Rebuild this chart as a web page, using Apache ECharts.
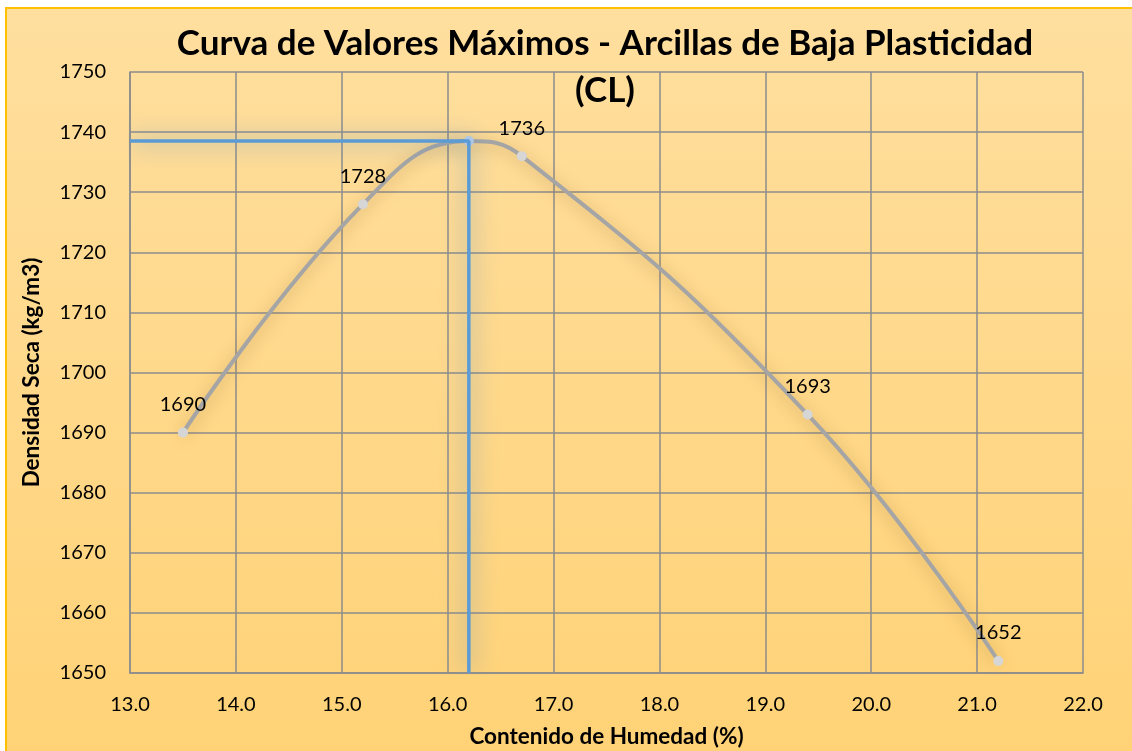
<!DOCTYPE html>
<html>
<head>
<meta charset="utf-8">
<script src="https://cdn.jsdelivr.net/npm/echarts@6/dist/echarts.min.js"></script>
<style>
  html, body { margin: 0; padding: 0; background: #ffffff; }
  #chart { width: 1132px; height: 751px; }
</style>
</head>
<body>
<div id="chart"></div>
<script>
// Compaction test results: moisture content (%) vs dry density (kg/m3)
const humedad = [13.5, 15.2, 16.7, 19.4, 21.2];
const densidad = [1690, 1728, 1736, 1693, 1652];

// Optimum point
const optimoHumedad = 16.2;
const optimoDensidad = 1738.5;

const xTicks = { min: 13, max: 22, step: 1 };
const yTicks = { min: 1650, max: 1750, step: 10 };

const titulo = 'Curva de Valores Máximos - Arcillas de Baja Plasticidad\n(CL)';
const tituloX = 'Contenido de Humedad (%)';
const tituloY = 'Densidad Seca (kg/m3)';

// Curve points: measured values plus the optimum, ordered by moisture
const puntosCurva = humedad.map((h, i) => ({ value: [h, densidad[i]], etiqueta: true }));
puntosCurva.push({ value: [optimoHumedad, optimoDensidad], etiqueta: false });
puntosCurva.sort((a, b) => a.value[0] - b.value[0]);

const curvaData = puntosCurva.map(p => ({
  value: p.value,
  label: { show: p.etiqueta },
  itemStyle: p.etiqueta ? { color: '#D6D6D6' } : { color: '#B9D0EA' }
}));

// Reference lines to the optimum (to the y axis and down to the x axis)
const lineasOptimo = [
  [xTicks.min, optimoDensidad],
  [optimoHumedad, optimoDensidad],
  [optimoHumedad, yTicks.min]
];

const chart = echarts.init(document.getElementById('chart'), null, { renderer: 'canvas' });

const fuente = 'Lato, "Open Sans", sans-serif';
const tickFont = { fontFamily: fuente, fontSize: 20, color: '#000000' };
const axisTitleFont = { fontFamily: fuente, fontWeight: 'bold', fontSize: 22.5, color: '#000000' };

chart.setOption({
  backgroundColor: '#ffffff',
  animation: false,
  graphic: [{
    type: 'rect',
    z: -10,
    silent: true,
    shape: { x: 6, y: 8, width: 1130, height: 750 },
    style: {
      fill: new echarts.graphic.LinearGradient(0, 0, 0, 1, [
        { offset: 0, color: '#FFDF9F' },
        { offset: 1, color: '#FFD276' }
      ]),
      stroke: '#FFC000',
      lineWidth: 2
    }
  }],
  title: {
    text: titulo,
    left: 600,
    textAlign: 'center',
    top: 15,
    textStyle: {
      fontFamily: fuente,
      fontWeight: 'bold',
      fontSize: 35,
      lineHeight: 47,
      color: '#000000'
    }
  },
  grid: { left: 130, right: 49, top: 72, bottom: 78, outerBoundsMode: 'none', containLabel: false },
  xAxis: {
    type: 'value',
    min: xTicks.min,
    max: xTicks.max,
    interval: xTicks.step,
    name: tituloX,
    nameLocation: 'middle',
    nameGap: 52,
    nameTextStyle: axisTitleFont,
    axisLine: { show: true, lineStyle: { color: '#8C8C8C', width: 1.5 } },
    axisTick: { show: false },
    axisLabel: Object.assign({ margin: 22, formatter: v => v.toFixed(1) }, tickFont),
    splitLine: { show: true, lineStyle: { color: '#8C8C8C', width: 1.5 } }
  },
  yAxis: {
    type: 'value',
    min: yTicks.min,
    max: yTicks.max,
    interval: yTicks.step,
    name: tituloY,
    nameLocation: 'middle',
    nameGap: 87,
    nameTextStyle: axisTitleFont,
    axisLine: { show: true, lineStyle: { color: '#8C8C8C', width: 1.5 } },
    axisTick: { show: false },
    axisLabel: Object.assign({ margin: 24, formatter: v => String(v) }, tickFont),
    splitLine: { show: true, lineStyle: { color: '#8C8C8C', width: 1.5 } }
  },
  series: [
    {
      type: 'line',
      data: curvaData,
      smooth: 0.45,
      symbol: 'circle',
      symbolSize: 10,
      z: 3,
      lineStyle: {
        color: '#A5A5A5',
        width: 4,
        shadowColor: 'rgba(110, 80, 30, 0.4)',
        shadowBlur: 16,
        shadowOffsetY: 3
      },
      label: {
        show: true,
        position: 'top',
        distance: 13,
        fontFamily: fuente,
        fontSize: 20,
        color: '#000000',
        formatter: p => String(p.value[1])
      }
    },
    {
      type: 'line',
      data: lineasOptimo,
      symbol: 'none',
      z: 4,
      lineStyle: {
        color: '#5B9BD5',
        width: 3.5,
        shadowColor: 'rgba(70, 130, 200, 1)',
        shadowBlur: 24
      }
    }
  ]
});
</script>
</body>
</html>
